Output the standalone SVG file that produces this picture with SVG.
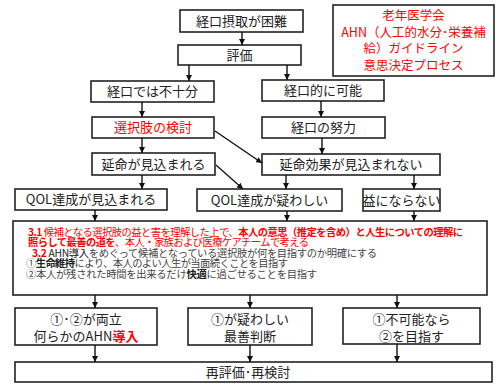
<svg xmlns="http://www.w3.org/2000/svg" width="504" height="384" viewBox="0 0 504 384">
<defs>
<marker id="ah" markerWidth="6" markerHeight="6" refX="6" refY="3" orient="auto" markerUnits="userSpaceOnUse">
<path d="M0,0 L6,3 L0,6 Z" fill="#111"/>
</marker>
<style>
.box{fill:#fff;stroke:#222;stroke-width:1.6}
.t{font-family:"Noto Sans CJK JP","Noto Sans CJK SC",sans-serif;font-size:13px;fill:#222;text-anchor:middle}
.red{fill:#f00}
.ttl{font-family:"Noto Sans CJK JP","Noto Sans CJK SC",sans-serif;font-size:12.5px;fill:#f00;text-anchor:middle}
.s{font-family:"Noto Sans CJK JP","Noto Sans CJK SC",sans-serif;font-size:10.3px;fill:#444}
.sr{fill:#f00}
.b{font-weight:bold}
.k{fill:#222}
.c line{stroke:#111;stroke-width:1.4;marker-end:url(#ah)}
</style>
</defs>
<rect width="504" height="384" fill="#fff"/>

<g id="title">
<rect class="box" x="333" y="5" width="161" height="71"/>
<text class="ttl" x="413.5" y="20">老年医学会</text>
<text class="ttl" x="413.5" y="37">AHN（人工的水分･栄養補</text>
<text class="ttl" x="413.5" y="53">給）ガイドライン</text>
<text class="ttl" x="413.5" y="70">意思決定プロセス</text>
</g>

<g id="n1"><rect class="box" x="180" y="10" width="123" height="22"/><text class="t" x="241.5" y="25.5">経口摂取が困難</text></g>
<g id="n2"><rect class="box" x="178" y="45" width="123" height="20"/><text class="t" x="239.5" y="59.5">評価</text></g>
<g id="n3"><rect class="box" x="91" y="81" width="123" height="21"/><text class="t" x="152.5" y="96">経口では不十分</text></g>
<g id="n4"><rect class="box" x="262" y="80" width="122" height="21"/><text class="t" x="323" y="95">経口的に可能</text></g>
<g id="n5"><rect class="box" x="92" y="117" width="122" height="21"/><text class="t red" x="153" y="132">選択肢の検討</text></g>
<g id="n6"><rect class="box" x="262" y="117" width="123" height="21"/><text class="t" x="323.5" y="132">経口の努力</text></g>
<g id="n7"><rect class="box" x="92" y="153" width="123" height="22"/><text class="t" x="153.5" y="168.5">延命が見込まれる</text></g>
<g id="n8"><rect class="box" x="262" y="154" width="178" height="21"/><text class="t" x="351" y="169">延命効果が見込まれない</text></g>
<g id="n9"><rect class="box" x="15" y="189" width="152" height="21"/><text class="t" x="91" y="204">QOL達成が見込まれる</text></g>
<g id="n10"><rect class="box" x="197" y="189" width="145" height="22"/><text class="t" x="269.5" y="204.5">QOL達成が疑わしい</text></g>
<g id="n11"><rect class="box" x="363" y="189" width="77" height="22"/><text class="t" x="401.5" y="204.5">益にならない</text></g>

<g id="n12">
<rect class="box" x="13" y="221" width="474" height="74"/>
<text class="s sr" x="28" y="235.5" textLength="435" lengthAdjust="spacing"><tspan class="b">3.1 </tspan>候補となる選択肢の益と害を理解した上で、<tspan class="b">本人の意思（推定を含め）と人生についての理解に</tspan></text>
<text class="s sr" x="28" y="246" textLength="281" lengthAdjust="spacing"><tspan class="b">照らして最善の道を</tspan>、本人・家族および医療ケアチームで考える</text>
<text class="s" x="32" y="256.5" textLength="345" lengthAdjust="spacing"><tspan class="b sr">3.2 </tspan><tspan class="k">AHN導入</tspan>をめぐって候補となっている選択肢が何を目指すのか明確にする</text>
<text class="s" x="26" y="267" textLength="262" lengthAdjust="spacing">①<tspan class="b k">生命維持</tspan>により、本人のよい人生が当面続くことを目指す</text>
<text class="s" x="26" y="277.5" textLength="291" lengthAdjust="spacing">②本人が残された時間を出来るだけ<tspan class="b k">快適</tspan>に過ごせることを目指す</text>
</g>

<g id="n13"><rect class="box" x="15" y="308" width="142" height="37"/><text class="t" x="86" y="323.5">①･②が両立</text><text class="t" x="86" y="340.5">何らかのAHN<tspan class="red b">導入</tspan></text></g>
<g id="n14"><rect class="box" x="188" y="308" width="124" height="37"/><text class="t" x="250" y="323.5">①が疑わしい</text><text class="t" x="250" y="340.5">最善判断</text></g>
<g id="n15"><rect class="box" x="343" y="308" width="137" height="36"/><text class="t" x="411.5" y="323.5">①不可能なら</text><text class="t" x="411.5" y="340.5">②を目指す</text></g>
<g id="n16"><rect class="box" x="15" y="362" width="477" height="20"/><text class="t" x="248" y="376.5">再評価･再検討</text></g>

<g id="connectors" class="c">
<line x1="242" y1="32" x2="242" y2="45"/>
<line x1="189" y1="65" x2="189" y2="81"/>
<line x1="287" y1="65" x2="287" y2="80"/>
<line x1="142" y1="102" x2="142" y2="117"/>
<line x1="321" y1="101" x2="321" y2="117"/>
<line x1="142" y1="138" x2="142" y2="153"/>
<line x1="322" y1="138" x2="322" y2="154"/>
<line x1="215" y1="131" x2="262" y2="163"/>
<line x1="216" y1="165" x2="243" y2="189"/>
<line x1="142" y1="175" x2="142" y2="189"/>
<line x1="286" y1="175" x2="286" y2="189"/>
<line x1="414" y1="175" x2="414" y2="189"/>
<line x1="95" y1="210" x2="95" y2="221"/>
<line x1="287" y1="211" x2="287" y2="221"/>
<line x1="414" y1="211" x2="414" y2="221"/>
<line x1="95" y1="295" x2="95" y2="308"/>
<line x1="250" y1="295" x2="250" y2="308"/>
<line x1="397" y1="295" x2="397" y2="308"/>
<line x1="95" y1="345" x2="95" y2="362"/>
<line x1="250" y1="345" x2="250" y2="362"/>
<line x1="397" y1="344" x2="397" y2="362"/>
</g>
</svg>
